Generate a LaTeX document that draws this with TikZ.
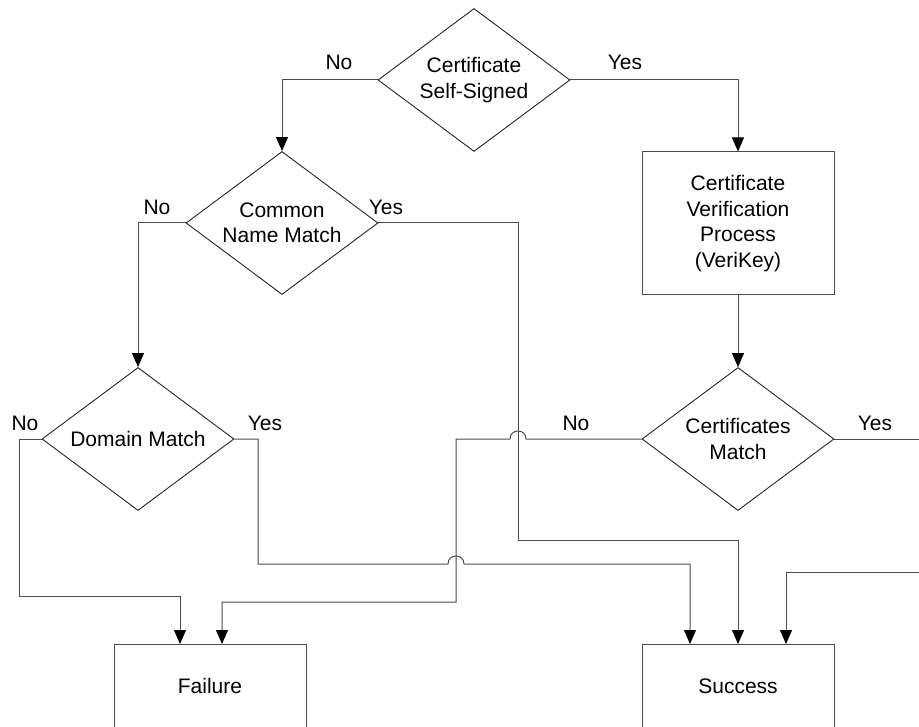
\documentclass[tikz,border=0pt]{standalone}
\usepackage{fontspec}
\setmainfont{Liberation Sans}
\usetikzlibrary{shapes.geometric,arrows.meta}
\begin{document}
\begin{tikzpicture}[x=1pt,y=-1pt,
  every node/.style={font=\fontsize{21}{25.5}\selectfont},
  decision/.style={diamond,draw=black!85,line width=0.9pt,inner sep=0pt,aspect=1.34,
    minimum width=192pt,minimum height=143pt,align=center},
  procbox/.style={rectangle,draw=black!70,line width=1pt,minimum width=192pt,
    minimum height=143pt,align=center,inner sep=0pt},
  endbox/.style={rectangle,draw=black!70,line width=1pt,minimum width=192pt,
    minimum height=100pt,anchor=north,text height=15pt,text depth=17pt,inner sep=0pt},
  conn/.style={draw=black!70,line width=1pt},
  arr/.style={conn,-{Triangle[length=14pt,width=12pt,black]}},
  lbl/.style={anchor=base,inner sep=0pt}]
\useasboundingbox (0,0) rectangle (919,727);
\fill[white] (0,0) rectangle (919,727);

% nodes
\node[decision] (d1) at (474,80) {Certificate\\Self-Signed};
\node[decision] (d2) at (282,223) {Common\\Name Match};
\node[decision] (d3) at (138,439) {Domain Match};
\node[decision] (d4) at (738,439) {Certificates\\Match};
\node[procbox] (b1) at (738,223.5) {Certificate\\Verification\\Process\\(VeriKey)};
\node[endbox] (fail) at (210,644) {Failure};
\node[endbox] (succ) at (738,644) {Success};

% entry points
\coordinate (fIn1) at (180,644);
\coordinate (fIn2) at (222,644);
\coordinate (sIn1) at (690,644);
\coordinate (sIn3) at (786,644);
\coordinate (eR1) at (925,439);
\coordinate (eR2) at (925,572);

% connectors
\draw[arr] (d1.west) -| (d2.north);
\draw[arr] (d1.east) -| (b1.north);
\draw[arr] (b1.south) -- (d4.north);
\draw[arr] (d2.west) -| (d3.north);
\draw[arr] (d2.east) -- (518,223) -- (518,540) -| (succ.north);
\draw[arr] (d3.east) -- (258,439) -- (258,564) -- (448,564)
   .. controls (448,553.3) and (464,553.3) .. (464,564) -- (690,564) -- (sIn1);
\draw[arr] (d3.west) -- (19,439) -- (19,596) -| (fIn1);
\draw[arr] (d4.west) -- (526,439)
   .. controls (526,428.3) and (510,428.3) .. (510,439) -- (456,439) -- (456,602) -| (fIn2);
\draw[conn] (d4.east) -- (eR1);
\draw[arr] (eR2) -| (sIn3);

% labels
\node[lbl] at (339,70) {No};
\node[lbl] at (625,70) {Yes};
\node[lbl] at (157,215) {No};
\node[lbl] at (386,215) {Yes};
\node[lbl] at (25,431) {No};
\node[lbl] at (265,431) {Yes};
\node[lbl] at (576,431) {No};
\node[lbl] at (875,431) {Yes};
\end{tikzpicture}
\end{document}
